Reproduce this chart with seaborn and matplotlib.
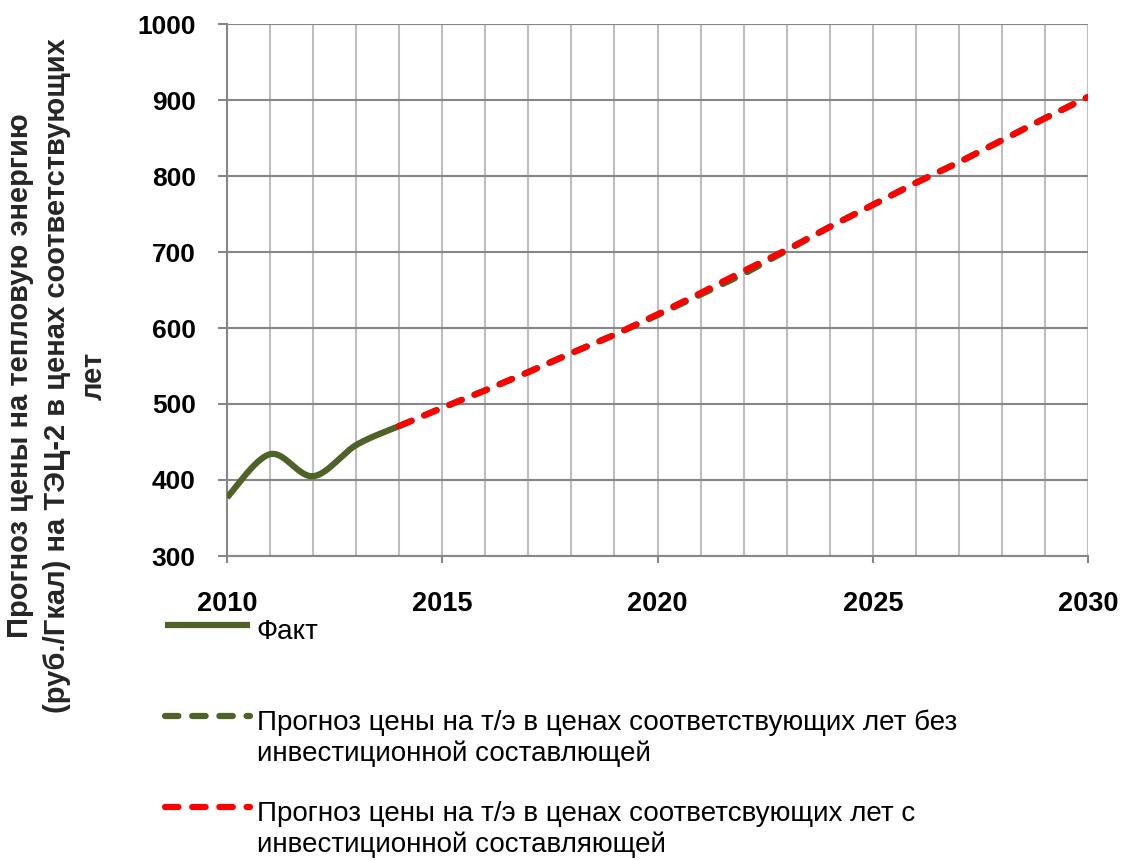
import numpy as np
import pandas as pd
import matplotlib
matplotlib.use("Agg")
import matplotlib.pyplot as plt
import seaborn as sns
from matplotlib.lines import Line2D
from matplotlib.legend_handler import HandlerLine2D
from matplotlib.ticker import MultipleLocator

# ---------------- data ----------------
fact_years = [2010, 2011, 2012, 2013, 2014]
fact_values = [377, 434, 405, 446, 471]

fc_years = list(range(2014, 2031))
fc_no_inv = [471, 495, 518, 542, 567, 591, 617, 644, 671, 702, 733, 762, 791, 818, 847, 876, 904]
fc_inv = [471, 495, 518, 542, 567, 591, 618, 646, 675, 703, 733, 762, 791, 818, 847, 876, 904]

labels = [
    "Факт\n ",
    "Прогноз цены на т/э в ценах соответствующих лет без\nинвестиционной составлющей",
    "Прогноз цены на т/э в ценах соответсвующих лет с\nинвестиционной составляющей",
]
ylabel = "Прогноз цены на тепловую энергию\n(руб./Гкал) на ТЭЦ-2 в ценах соответствующих\nлет"

GREEN = "#4F6228"
RED = "#FF0000"

sns.set_theme(style="white")
plt.rcParams["font.family"] = ["Liberation Sans", "DejaVu Sans"]


def smooth(xs, ys, n=40):
    """Excel-like smoothed line (Catmull-Rom Bezier) through the data points."""
    pts = np.column_stack([xs, ys]).astype(float)
    out = []
    for i in range(len(pts) - 1):
        p0 = pts[i - 1] if i > 0 else pts[i]
        p1, p2 = pts[i], pts[i + 1]
        p3 = pts[i + 2] if i + 2 < len(pts) else pts[i + 1]
        c1 = p1 + (p2 - p0) / 6.0
        c2 = p2 - (p3 - p1) / 6.0
        t = np.linspace(0, 1, n)[:, None]
        seg = (1 - t) ** 3 * p1 + 3 * (1 - t) ** 2 * t * c1 + 3 * (1 - t) * t ** 2 * c2 + t ** 3 * p2
        out.append(seg if i == 0 else seg[1:])
    return np.vstack(out)


fig = plt.figure(figsize=(11.25, 8.6), dpi=100)
ax = fig.add_axes([227 / 1125, 1 - 556 / 860, (1088 - 227) / 1125, (556 - 24) / 860])

sm = smooth(fact_years, fact_values)
df_fact = pd.DataFrame({"year": sm[:, 0], "value": sm[:, 1]})
df_no = pd.DataFrame({"year": fc_years, "value": fc_no_inv})
df_inv = pd.DataFrame({"year": fc_years, "value": fc_inv})

LW = 4.5
DASH = (0, (2.15, 2.2))
sns.lineplot(data=df_fact, x="year", y="value", ax=ax, color=GREEN, lw=LW, sort=False,
             solid_capstyle="butt", zorder=3)
sns.lineplot(data=df_no, x="year", y="value", ax=ax, color=GREEN, lw=LW, linestyle=DASH,
             dash_capstyle="round", zorder=4)
sns.lineplot(data=df_inv, x="year", y="value", ax=ax, color=RED, lw=LW, linestyle=DASH,
             dash_capstyle="round", zorder=5)

ax.set_xlim(2010, 2030)
ax.set_ylim(300, 1000)
ax.xaxis.set_major_locator(MultipleLocator(5))
ax.xaxis.set_minor_locator(MultipleLocator(1))
ax.yaxis.set_major_locator(MultipleLocator(100))

ax.grid(False)
ax.grid(True, axis="x", which="both", color="#BEBEBE", lw=1.5, zorder=0)
ax.grid(True, axis="y", which="major", color="#878787", lw=1.5, zorder=0)
ax.set_axisbelow(True)

for s in ["top", "right"]:
    ax.spines[s].set_visible(False)
for s in ["left", "bottom"]:
    ax.spines[s].set_color("#878787")
    ax.spines[s].set_linewidth(1.5)

ax.tick_params(axis="x", which="major", direction="out", length=5, width=1.5, color="#878787",
               pad=20.5, labelsize=19.5, bottom=True)
ax.tick_params(axis="x", which="minor", length=0)
ax.tick_params(axis="y", which="major", direction="out", length=6.5, width=1.5, color="#878787",
               pad=16, labelsize=19, left=True)
for lab in ax.get_xticklabels() + ax.get_yticklabels():
    lab.set_fontweight("bold")
    lab.set_color("black")

ax.set_xlabel("")
ax.set_ylabel("")

fig.text(57 / 1125, 1 - 376 / 860, ylabel, rotation=90, ha="center", va="center",
         multialignment="center", fontsize=21, fontweight="bold", linespacing=1.4)


class FirstLineHandler(HandlerLine2D):
    def __init__(self, shift, **kw):
        super().__init__(**kw)
        self.shift = shift

    def create_artists(self, legend, orig_handle, xdescent, ydescent, width, height, fontsize, trans):
        arts = super().create_artists(legend, orig_handle, xdescent, ydescent, width, height, fontsize, trans)
        for a in arts:
            if isinstance(a, Line2D):
                a.set_ydata(np.asarray(a.get_ydata(), dtype=float) + self.shift)
        return arts


h_fact = Line2D([], [], color=GREEN, lw=LW, solid_capstyle="butt")
h_no = Line2D([], [], color=GREEN, lw=LW, linestyle=DASH, dash_capstyle="round")
h_inv = Line2D([], [], color=RED, lw=LW, linestyle=DASH, dash_capstyle="round")
SHIFT = 16.5
hmap = {h: FirstLineHandler(SHIFT) for h in (h_fact, h_no, h_inv)}
leg = fig.legend([h_fact, h_no, h_inv], labels, loc="upper left",
                 bbox_to_anchor=(165 / 1125, 1 - 619 / 860), frameon=False, fontsize=20,
                 handlelength=3.05, handletextpad=0.25, borderpad=0, borderaxespad=0,
                 labelspacing=1.2, handler_map=hmap)
for t in leg.get_texts():
    t.set_linespacing(1.25)
    t.set_color("black")

fig.savefig("out.png", dpi=100)
